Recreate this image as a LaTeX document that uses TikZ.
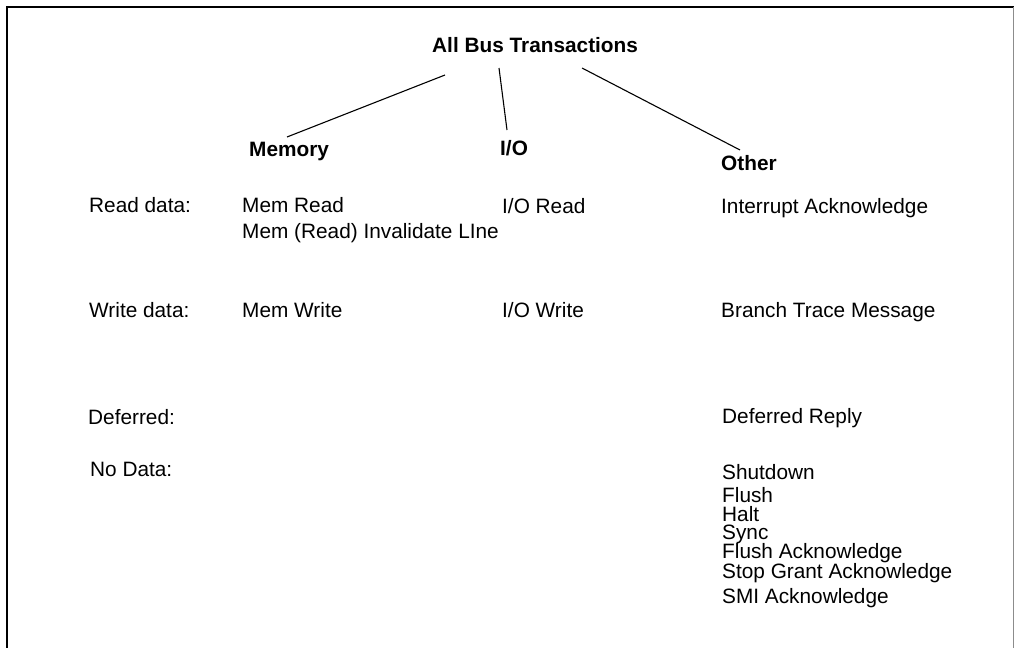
\documentclass[tikz,border=0pt]{standalone}
\usepackage{fontspec}
\setmainfont{Liberation Sans}
\begin{document}
\begin{tikzpicture}[x=1pt,y=-1pt,
  txt/.style={anchor=base west,inner sep=0pt,font=\fontsize{20.8}{24}\selectfont},
  head/.style={txt,font=\fontsize{20.8}{24}\selectfont\bfseries},
  conn/.style={line width=1.1pt,black},
  frame/.style={line width=1.3pt,black}]
\useasboundingbox (0,0) rectangle (1015,648);
% frame
\draw[frame] (7,648) -- (7,7) -- (1014,7);
\draw[line width=1pt,black!45] (1013,7) -- (1013,648);
% headings
\node[head] (all) at (432,52) {All Bus Transactions};
\node[head] (mem) at (249,156) {Memory};
\node[head] (io) at (500,155) {I/O};
\node[head] (oth) at (721,170) {Other};
% connector ends
\coordinate (a1) at (445,75);
\coordinate (m1) at (287,137);
\coordinate (a2) at (499,68);
\coordinate (i1) at (507,130);
\coordinate (a3) at (582,68);
\coordinate (o1) at (740,150);
\draw[conn] (a1) -- (m1);
\draw[conn] (a2) -- (i1);
\draw[conn] (a3) -- (o1);
% row labels
\node[txt] (rd) at (89,212) {Read data:};
\node[txt] (wd) at (89,317) {Write data:};
\node[txt] (df) at (88,424) {Deferred:};
\node[txt] (nd) at (90,476) {No Data:};
% memory column
\node[txt] (mr) at (242,212) {Mem Read};
\node[txt] (mi) at (242,238) {Mem (Read) Invalidate LIne};
\node[txt] (mw) at (242,317) {Mem Write};
% io column
\node[txt] (ir) at (502,213) {I/O Read};
\node[txt] (iw) at (502,317) {I/O Write};
% other column
\node[txt] (ia) at (721,213) {Interrupt Acknowledge};
\node[txt] (bt) at (721,317) {Branch Trace Message};
\node[txt] (dr) at (722,423) {Deferred Reply};
\node[txt] (sd) at (722,479) {Shutdown};
\node[txt] (fl) at (722,502) {Flush};
\node[txt] (ha) at (722,521) {Halt};
\node[txt] (sy) at (722,539) {Sync};
\node[txt] (fa) at (722,558) {Flush Acknowledge};
\node[txt] (sg) at (722,578) {Stop Grant Acknowledge};
\node[txt] (sm) at (722,603) {SMI Acknowledge};
\end{tikzpicture}
\end{document}
